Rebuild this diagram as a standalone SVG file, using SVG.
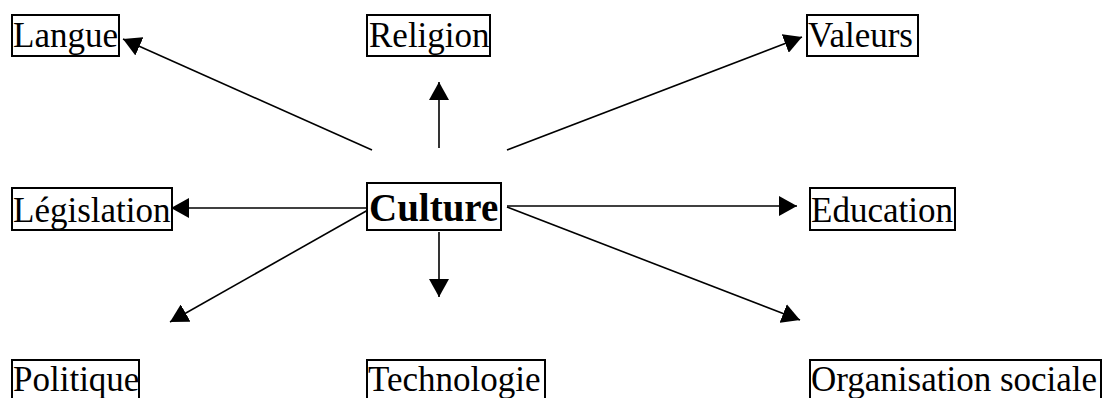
<svg xmlns="http://www.w3.org/2000/svg" width="1102" height="398" viewBox="0 0 1102 398">
<style>
.box{fill:#fff;stroke:#000;stroke-width:2}
.t{font-family:"Liberation Serif","Times New Roman",serif;font-size:35px;fill:#000}
.tb{font-family:"Liberation Serif","Times New Roman",serif;font-size:39px;font-weight:bold;fill:#000}
.c{stroke:#000;stroke-width:1.6;fill:none;marker-end:url(#ah)}
</style>
<defs>
<marker id="ah" viewBox="0 0 18 20" refX="18" refY="10" markerWidth="18" markerHeight="20" markerUnits="userSpaceOnUse" orient="auto">
<path d="M0,0 L18,10 L0,20 Z" fill="#000"/>
</marker>
</defs>
<rect width="1102" height="398" fill="#fff"/>
<g id="connectors">
<line class="c" x1="372" y1="150" x2="123" y2="39"/>
<line class="c" x1="439" y1="148" x2="439" y2="82"/>
<line class="c" x1="507" y1="150" x2="802" y2="37"/>
<line class="c" x1="368" y1="208" x2="171" y2="208"/>
<line class="c" x1="507" y1="206" x2="797" y2="206"/>
<line class="c" x1="368" y1="210" x2="170" y2="322"/>
<line class="c" x1="439" y1="232" x2="439" y2="297"/>
<line class="c" x1="507" y1="207" x2="800" y2="320"/>
</g>
<g id="langue"><rect class="box" x="12" y="15" width="107" height="41"/><text class="t" x="13" y="47">Langue</text></g>
<g id="religion"><rect class="box" x="367" y="15" width="123" height="41"/><text class="t" x="369" y="47">Religion</text></g>
<g id="valeurs"><rect class="box" x="807" y="15" width="111" height="41"/><text class="t" x="808" y="47">Valeurs</text></g>
<g id="legislation"><rect class="box" x="12" y="188" width="160" height="42"/><text class="t" x="13" y="222">Législation</text></g>
<g id="culture"><rect class="box" x="367" y="183" width="134" height="47"/><text class="tb" x="369" y="221">Culture</text></g>
<g id="education"><rect class="box" x="810" y="188" width="145" height="42"/><text class="t" x="811" y="222">Education</text></g>
<g id="politique"><rect class="box" x="12" y="360" width="127" height="45"/><text class="t" x="13" y="391">Politique</text></g>
<g id="technologie"><rect class="box" x="367" y="360" width="178" height="45"/><text class="t" x="368" y="391">Technologie</text></g>
<g id="organisation"><rect class="box" x="810" y="360" width="291" height="45"/><text class="t" x="811" y="391">Organisation sociale</text></g>
</svg>
